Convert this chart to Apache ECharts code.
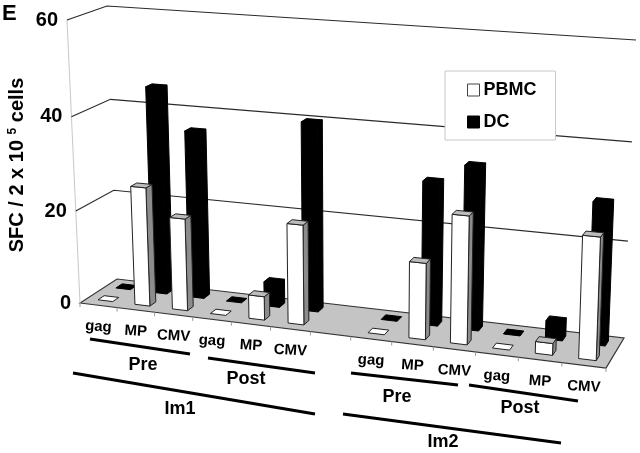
<!DOCTYPE html>
<html>
<head>
<meta charset="utf-8">
<style>
  html, body { margin: 0; padding: 0; background: #fff; }
  #main { width: 640px; height: 453px; }
</style>
<script src="https://cdn.jsdelivr.net/npm/echarts@6/dist/echarts.min.js"></script>
</head>
<body>
<div id="main"></div>
<script>
const categories = ["gag", "MP", "CMV", "gag", "MP", "CMV", "", "gag", "MP", "CMV", "gag", "MP", "CMV"];
const pbmcValues = [0, 25.5, 19.7, 0, 5, 21, null, 0, 15.8, 26.3, 0, 2.4, 24.7];
const dcValues = [0, 44.7, 36, 0, 5.2, 40, null, 0, 30, 34, 0, 3.8, 29];
const valueTicks = [0, 20, 40, 60];

const FONT = '"Liberation Sans", Arial, sans-serif';

// corners of the tilted box on the page, [front/back][left/right][bottom/top]
const box = {
  flb: [80, 303], frb: [606, 368], blb: [117, 279], brb: [624, 338],
  flt: [67, 20], frt: [617, 58], blt: [107, 6], brt: [636, 40],
};
const WARP_U = 0.1;
const WARP_V = 0.0385;

const lerp = (a, b, t) => [a[0] + (b[0] - a[0]) * t, a[1] + (b[1] - a[1]) * t];

// flat grid fractions -> point on the page
function project(u, d, v) {
  const s = u / (1 + WARP_U * (1 - u));
  const h = v / (1 + WARP_V * (1 - v));
  const front = lerp(lerp(box.flb, box.frb, s), lerp(box.flt, box.frt, s), h);
  const back = lerp(lerp(box.blb, box.brb, s), lerp(box.blt, box.brt, s), h);
  return lerp(front, back, d);
}

function fractions(params, api, index, value) {
  const c = api.coord([index, value]);
  const g = params.coordSys;
  return [(c[0] - g.x) / g.width, (g.y + g.height - c[1]) / g.height];
}

function quad(points, fill, stroke, lineWidth) {
  return {
    type: "polygon",
    shape: { points: points },
    style: { fill: fill, stroke: stroke || fill, lineWidth: lineWidth || 1 },
  };
}

// one cuboid per value
function barRenderer(d0, d1, colors) {
  return function (params, api) {
    const i = api.value(0);
    const val = api.value(1);
    if (isNaN(val)) return;
    const f = fractions(params, api, i, val);
    const halfW = (api.size([1, 0])[0] / params.coordSys.width) * 0.2;
    const u0 = f[0] - halfW;
    const u1 = f[0] + halfW;
    const v = f[1];
    const children = [];
    if (val > 0) {
      children.push(quad([project(u1, d0, 0), project(u1, d1, 0), project(u1, d1, v), project(u1, d0, v)], colors.side, colors.edge));
      children.push(quad([project(u0, d0, 0), project(u1, d0, 0), project(u1, d0, v), project(u0, d0, v)], colors.front, colors.edge));
    }
    children.push(quad([project(u0, d0, v), project(u1, d0, v), project(u1, d1, v), project(u0, d1, v)], val > 0 ? colors.top : colors.front, colors.edge));
    return { type: "group", children: children };
  };
}

// floor, ticks and category labels
function renderCategory(params, api) {
  const i = params.dataIndex;
  const f = fractions(params, api, i, 0);
  const halfBand = (api.size([1, 0])[0] / params.coordSys.width) / 2;
  const children = [];
  if (i === 0) {
    children.push(quad([project(0, 0, 0), project(1, 0, 0), project(1, 1, 0), project(0, 1, 0)], "#c4c4c4", "#333", 1.2));
    const top = project(0, 0, 1);
    const bottom = project(0, 0, 0);
    children.push({ type: "line", shape: { x1: top[0], y1: top[1], x2: bottom[0], y2: bottom[1] }, style: { stroke: "#c8c8c8", lineWidth: 1 } });
  }
  const t = project(f[0] - halfBand, 0, 0);
  children.push({ type: "line", shape: { x1: t[0], y1: t[1], x2: t[0], y2: t[1] + 4 }, style: { stroke: "#999", lineWidth: 1 } });
  if (i === categories.length - 1) {
    const e = project(1, 0, 0);
    children.push({ type: "line", shape: { x1: e[0], y1: e[1], x2: e[0], y2: e[1] + 4 }, style: { stroke: "#999", lineWidth: 1 } });
  }
  const p = project(f[0], 0, 0);
  children.push({
    type: "text",
    x: p[0], y: p[1] + 21.5,
    rotation: -0.06,
    style: { text: categories[i], font: "bold 15px " + FONT, fill: "#000", align: "center", verticalAlign: "middle" },
  });
  return { type: "group", children: children };
}

// level lines on the walls and value labels
function renderLevel(params, api) {
  const val = api.value(1);
  const v = fractions(params, api, 0, val)[1];
  const a = project(0, 0, v);
  const b = project(0, 1, v);
  const c = project(1, 1, v);
  const children = [{
    type: "text",
    x: a[0] - 9, y: a[1],
    style: { text: String(val), font: "bold 20px " + FONT, fill: "#000", align: "right", verticalAlign: "middle" },
  }];
  if (val > 0) {
    children.push({ type: "polyline", shape: { points: [a, b, c] }, style: { fill: "none", stroke: "#2a2a2a", lineWidth: 1.2 } });
  }
  return { type: "group", children: children };
}

function groupLine(x1, y1, x2, y2) {
  return { type: "line", shape: { x1: x1, y1: y1, x2: x2, y2: y2 }, style: { stroke: "#000", lineWidth: 3 } };
}
function groupLabel(text, x, y) {
  return { type: "text", x: x, y: y, style: { text: text, font: "bold 18px " + FONT, fill: "#000", align: "center", verticalAlign: "middle" } };
}

const chart = echarts.init(document.getElementById("main"));
chart.setOption({
  animation: false,
  backgroundColor: "#fff",
  title: { text: "E", left: 2, top: 3, padding: 0, textStyle: { fontFamily: FONT, fontWeight: "bold", fontSize: 22, color: "#000" } },
  grid: { left: 0, right: 0, top: 0, bottom: 0 },
  xAxis: { type: "category", data: categories, show: false },
  yAxis: { type: "value", min: 0, max: 60, interval: 20, show: false },
  legend: {
    data: [
      { name: "PBMC", icon: "rect", itemStyle: { color: "#fff", borderColor: "#444", borderWidth: 1 } },
      { name: "DC", icon: "rect", itemStyle: { color: "#000", borderColor: "#000", borderWidth: 1 } },
    ],
    orient: "vertical",
    left: 445, top: 71,
    padding: [10, 19, 9, 22],
    itemWidth: 12, itemHeight: 12, itemGap: 14,
    selectedMode: false,
    backgroundColor: "#fff",
    borderColor: "#c8c8c8",
    borderWidth: 1,
    textStyle: { fontFamily: FONT, fontWeight: "bold", fontSize: 18, color: "#000", padding: [0, 0, 0, -1] },
  },
  graphic: [
    groupLine(90, 339, 190, 354),
    groupLine(208, 358, 315, 373),
    groupLine(73, 373, 315, 414),
    groupLine(351, 373, 458, 385),
    groupLine(469, 385, 578, 401),
    groupLine(343, 414, 561, 443),
    groupLabel("Pre", 143, 365),
    groupLabel("Post", 246, 379),
    groupLabel("Im1", 180, 409),
    groupLabel("Pre", 397, 397),
    groupLabel("Post", 520, 408),
    groupLabel("Im2", 443, 442),
    {
      type: "text",
      x: 17, y: 165,
      rotation: Math.PI / 2,
      style: {
        text: "SFC / 2 x 10 {sup|5} cells",
        font: "bold 20px " + FONT,
        fill: "#000",
        align: "center",
        verticalAlign: "middle",
        rich: { sup: { font: "bold 12px " + FONT, fill: "#000", verticalAlign: "top" } },
      },
    },
  ],
  series: [
    {
      name: "floor",
      type: "custom",
      renderItem: renderCategory,
      data: categories.map((c, i) => [i, 0]),
      silent: true,
    },
    {
      name: "levels",
      type: "custom",
      renderItem: renderLevel,
      data: valueTicks.map((t) => [0, t]),
      silent: true,
    },
    {
      name: "DC",
      type: "custom",
      renderItem: barRenderer(0.68, 0.85, { front: "#000", side: "#000", top: "#000", edge: "#000" }),
      data: dcValues.map((v, i) => [i, v]),
      itemStyle: { color: "#000" },
    },
    {
      name: "PBMC",
      type: "custom",
      renderItem: barRenderer(0.19, 0.36, { front: "#fff", side: "#8c8c8c", top: "#bcbcbc", edge: "#222" }),
      data: pbmcValues.map((v, i) => [i, v]),
      itemStyle: { color: "#fff" },
    },
  ],
});
</script>
</body>
</html>
